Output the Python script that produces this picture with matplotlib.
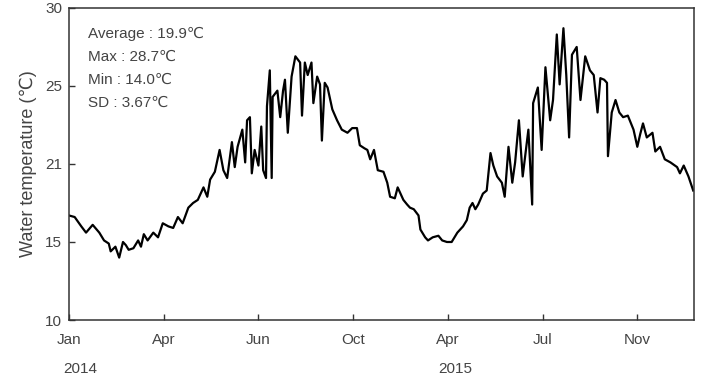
import matplotlib
matplotlib.use("Agg")
import matplotlib.pyplot as plt

# day index from start of record, water temperature (degC)
day = [0, 6, 13, 18, 25, 32, 37, 42, 44, 49, 53, 57, 60, 63, 68, 73, 76, 79, 83,
       89, 94, 99, 105, 110, 115, 120, 126, 131, 136, 142, 146, 149, 154, 159,
       163, 167, 172, 175, 178, 183, 186, 188, 191, 193, 196, 200, 203, 205,
       208, 209, 212, 214, 215, 220, 223, 226, 228, 231, 235, 239, 244, 246,
       249, 252, 256, 258, 262, 265, 267, 270, 273, 278, 283, 288, 294, 299,
       304, 307, 312, 315, 318, 322, 326, 332, 336, 339, 344, 347, 353, 357,
       360, 364, 369, 371, 376, 379, 384, 390, 394, 399, 404, 410, 413, 416,
       420, 423, 426, 429, 432, 437, 441, 445, 448, 452, 457, 460, 464, 468,
       471, 475, 479, 485, 489, 490, 495, 499, 503, 508, 511, 515, 518, 522,
       525, 528, 531, 536, 540, 545, 550, 554, 558, 561, 565, 568, 569, 573,
       577, 581, 585, 590, 596, 600, 603, 606, 610, 616, 619, 624, 629, 635,
       642, 645, 649, 654, 659]
temp = [16.7, 16.6, 16.0, 15.6, 16.1, 15.6, 15.1, 14.9, 14.4, 14.7, 14.0, 15.0,
        14.8, 14.5, 14.6, 15.1, 14.7, 15.5, 15.1, 15.6, 15.3, 16.2, 16.0, 15.9,
        16.6, 16.2, 17.2, 17.5, 17.7, 18.5, 17.9, 19.0, 19.5, 20.9, 19.6, 19.1,
        21.4, 19.8, 21.1, 22.2, 20.1, 22.8, 23.0, 19.4, 20.9, 19.9, 22.4, 19.6,
        19.1, 23.7, 26.0, 19.1, 24.3, 24.7, 23.0, 24.7, 25.4, 22.0, 25.6, 26.9,
        26.5, 23.1, 26.5, 25.7, 26.5, 23.9, 25.6, 25.1, 21.5, 25.2, 24.9, 23.5,
        22.8, 22.2, 22.0, 22.3, 22.3, 21.2, 21.0, 20.9, 20.3, 20.9, 19.6, 19.5,
        18.8, 17.9, 17.8, 18.5, 17.7, 17.4, 17.2, 17.1, 16.7, 15.8, 15.3, 15.1,
        15.3, 15.4, 15.1, 15.0, 15.0, 15.6, 15.8, 16.0, 16.4, 17.2, 17.5, 17.1,
        17.4, 18.1, 18.3, 20.7, 19.9, 19.2, 18.8, 17.9, 21.1, 18.8, 20.1, 22.8,
        19.2, 22.2, 17.4, 23.9, 24.9, 20.9, 26.2, 22.8, 24.1, 28.3, 25.1, 28.7,
        25.7, 21.7, 27.0, 27.5, 24.1, 26.9, 26.0, 25.7, 23.3, 25.5, 25.4, 25.2,
        20.5, 23.3, 24.1, 23.3, 23.0, 23.1, 22.2, 21.1, 21.9, 22.6, 21.7, 22.0,
        20.8, 21.1, 20.3, 20.1, 19.8, 19.4, 19.9, 19.2, 18.3]

tick_days = [0, 100, 200, 300, 400, 500, 600]
tick_months = ["Jan", "Apr", "Jun", "Oct", "Apr", "Jul", "Nov"]
y_ticks = [10, 15, 20, 25, 30]
y_labels = ["10", "15", "21", "25", "30"]
years = ["2014", "2015"]
year_days = [12, 408]
stats = ["Average : 19.9\u2103", "Max : 28.7\u2103", "Min : 14.0\u2103",
         "SD : 3.67\u2103"]

FONT = ["Liberation Sans", "DejaVu Sans"]
GREY = "#444444"
plt.rcParams["font.family"] = FONT

fig = plt.figure(figsize=(7.04, 3.78), dpi=100)
ax = fig.add_axes([0.098, 0.1534, 0.888, 0.8256])
ax.plot(day, temp, color="black", lw=1.6)

ax.set_xlim(0, 660)
ax.set_ylim(10, 30)
ax.set_xticks(tick_days)
ax.set_xticklabels(tick_months)
ax.set_yticks(y_ticks)
ax.set_yticklabels(y_labels)
ax.tick_params(direction="in", length=4, width=1, colors="#333333",
               labelcolor=GREY, labelsize=11)
ax.tick_params(axis="x", pad=9)
ax.tick_params(axis="y", pad=5)
for s in ax.spines.values():
    s.set_color("#333333")
    s.set_linewidth(1.1)

ax.set_ylabel("Water temperature (\u2103)", fontsize=13, color=GREY, labelpad=6)

for i, s in enumerate(stats):
    ax.text(0.031, 0.917 - i * 0.0737, s, transform=ax.transAxes, fontsize=11,
            color=GREY, va="center", ha="left")

# year labels sit under the month axis, just inside the bottom edge
for d, y in zip(year_days, years):
    fx = 0.098 + 0.888 * d / 660
    fig.text(fx, 0.004, y, fontsize=11, color=GREY, ha="center", va="bottom")

fig.savefig("out.png", dpi=100)
